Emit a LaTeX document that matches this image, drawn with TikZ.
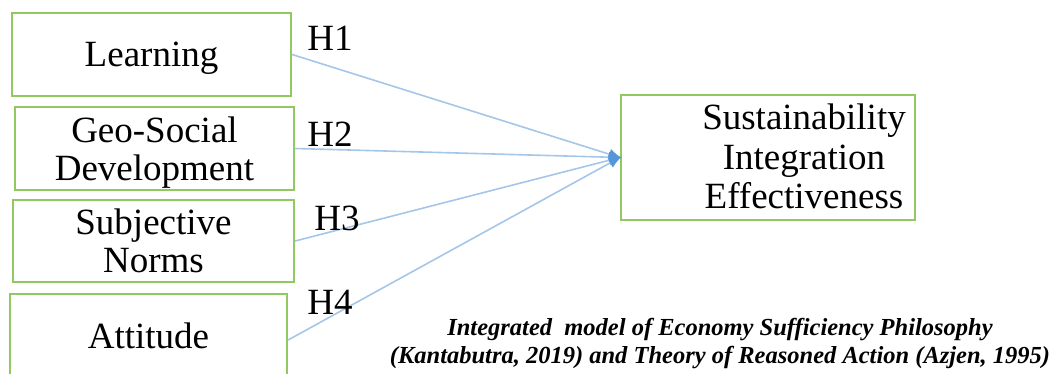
\documentclass[tikz,border=0pt]{standalone}
\usepackage{fontspec}
\setmainfont{Liberation Serif}
\usetikzlibrary{arrows.meta}
\usetikzlibrary{calc}
\definecolor{boxgreen}{RGB}{146,200,96}
\definecolor{linkblue}{RGB}{165,198,232}
\definecolor{tipblue}{RGB}{84,150,218}
\newcommand{\lowered}[1]{\raisebox{-4pt}[\height][\depth]{#1}}

\begin{document}
\begin{tikzpicture}[x=1pt,y=-1pt,
  factor/.style={rectangle,draw=boxgreen,line width=2.2pt,align=center,inner sep=0pt,
    font=\fontsize{37}{38}\selectfont,minimum width=279pt,minimum height=83pt},
  outcome/.style={factor,minimum width=294pt,minimum height=125pt,font=\fontsize{37}{39.5}\selectfont},
  link/.style={draw=linkblue,line width=1.6pt,-{Latex[length=13pt,width=11pt,color=tipblue]},shorten >=-2pt},
  hyp/.style={font=\fontsize{37}{38}\selectfont,inner sep=0pt}]

  \useasboundingbox (0,0) rectangle (1056,373);

  \node[factor] (learn) at (151.5,54.5) {\lowered{Learning}};
  \node[factor] (geo) at (154.5,148.5) {\lowered{Geo-Social}\\\lowered{Development}};
  \node[factor,minimum width=281pt,minimum height=82pt] (subj) at (153.5,241) {Subjective\\Norms};
  \node[factor,minimum width=277pt,minimum height=92pt] (att) at (148.5,340) {\raisebox{8pt}{Attitude}};

  \node[outcome] (sie) at (768,157.5)
    {\hspace*{72pt}\lowered{\begin{tabular}{@{}c@{}}Sustainability\\Integration\\Effectiveness\end{tabular}}};

  \draw[link] (learn.east) -- (sie.west);
  \draw[link] (geo.east) -- (sie.west);
  \draw[link] (subj.east) -- (sie.west);
  \draw[link] (att.east) -- (sie.west);

  \node[hyp] (h1) at (330,38) {H1};
  \node[hyp] (h2) at (330,134) {H2};
  \node[hyp] (h3) at (337,218) {H3};
  \node[hyp] (h4) at (330,302) {H4};

  \node[align=center,inner sep=0pt,font=\fontsize{24.5}{28}\selectfont\bfseries\itshape] (cap) at (720,344)
    {Integrated\ \ model of Economy Sufficiency Philosophy\\(Kantabutra, 2019) and Theory of Reasoned Action (Azjen, 1995)};
\end{tikzpicture}
\end{document}
